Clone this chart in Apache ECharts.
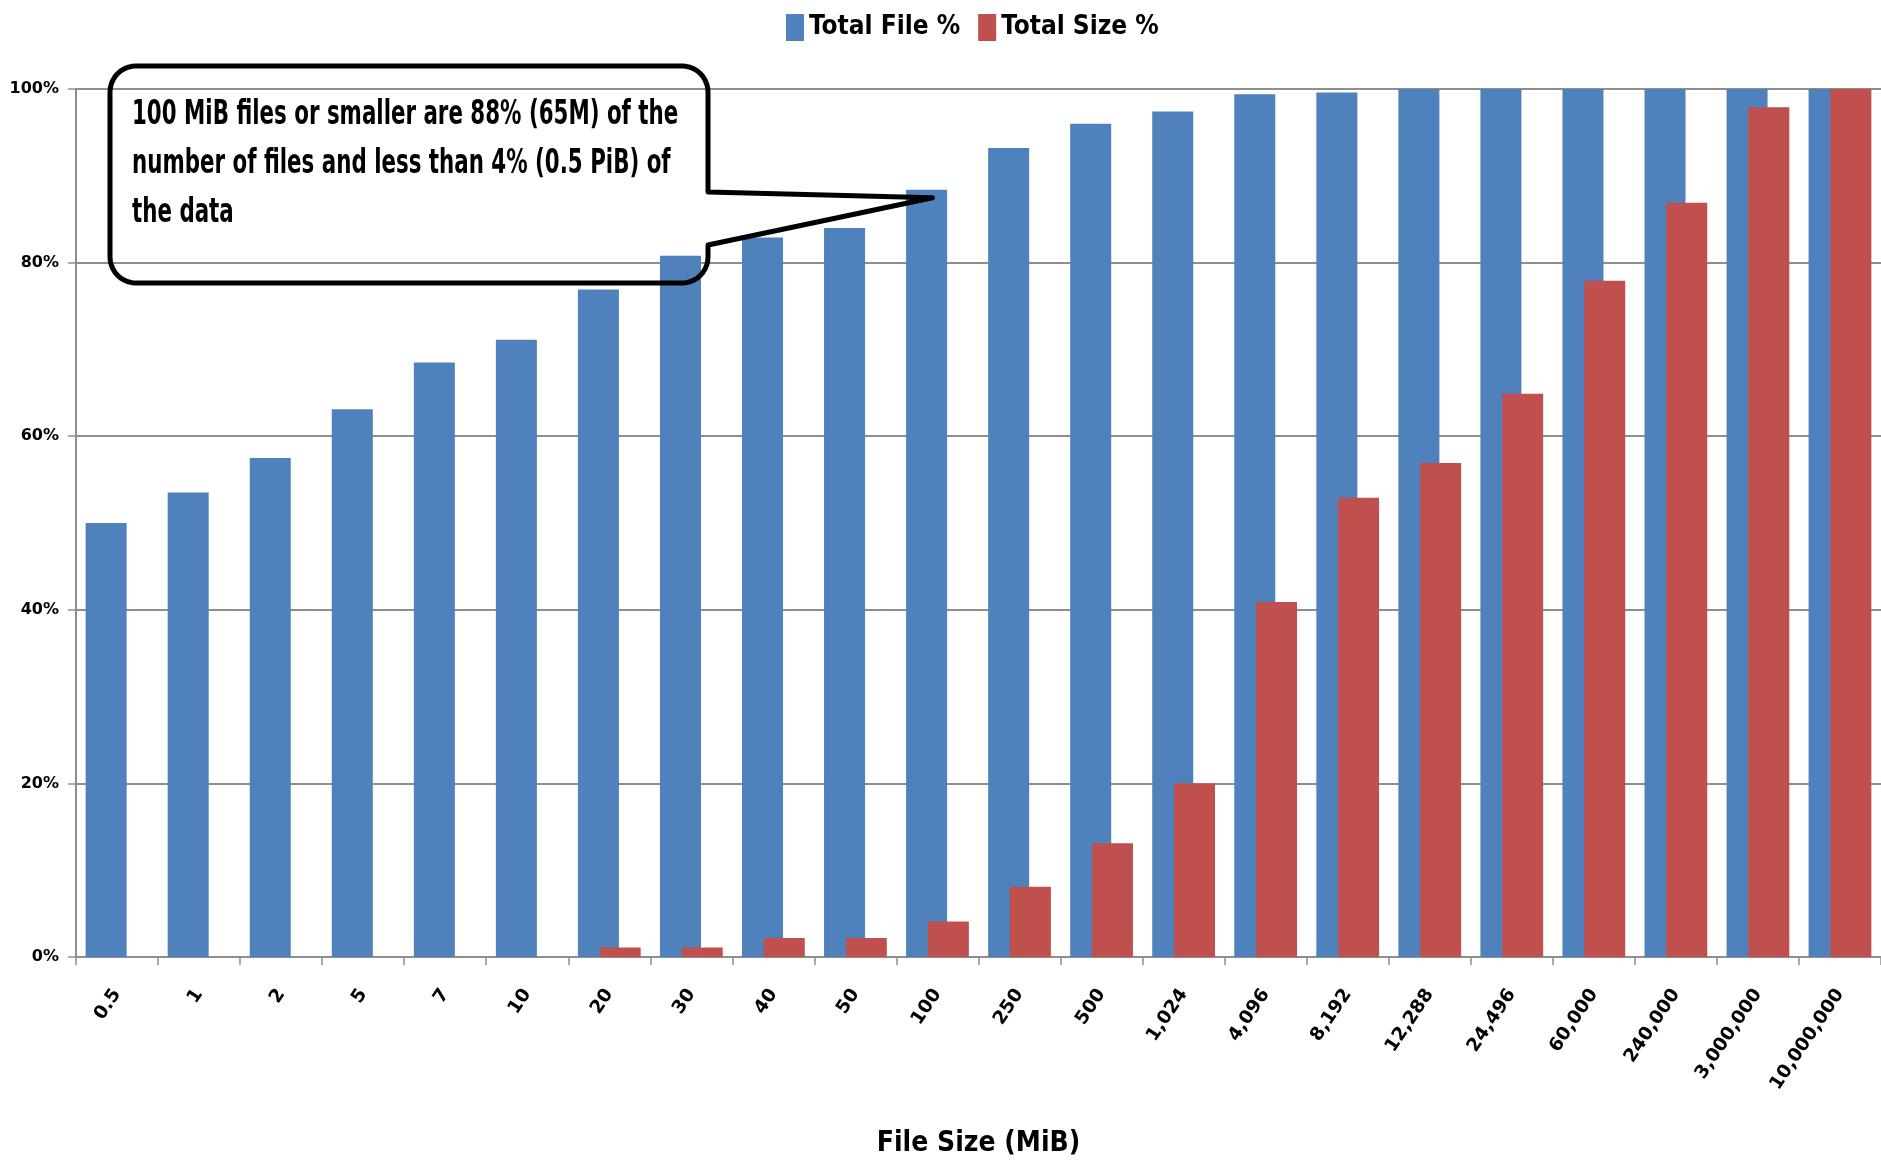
<!DOCTYPE html>
<html>
<head>
<meta charset="utf-8">
<title>File size distribution</title>
<script src="https://cdn.jsdelivr.net/npm/echarts@6/dist/echarts.min.js"></script>
<style>
  html, body { margin: 0; padding: 0; background: #fff; }
  #chart { width: 1881px; height: 1168px; }
</style>
</head>
<body>
<div id="chart"></div>
<script>
// File size buckets (MiB) and cumulative shares (%)
const sizeLabels = ['0.5', '1', '2', '5', '7', '10', '20', '30', '40', '50', '100', '250', '500',
  '1,024', '4,096', '8,192', '12,288', '24,496', '60,000', '240,000', '3,000,000', '10,000,000'];
const fileShare = [50, 53.5, 57.5, 63.1, 68.5, 71.1, 76.9, 80.8, 82.9, 84.0, 88.4, 93.2, 96.0,
  97.4, 99.4, 99.6, 100, 100, 100, 100, 100, 100];
const sizeShare = [0, 0, 0, 0, 0, 0, 1.1, 1.1, 2.2, 2.2, 4.1, 8.1, 13.1,
  20.0, 40.9, 52.9, 56.9, 64.9, 77.9, 86.9, 97.9, 100];
const yTicks = [0, 20, 40, 60, 80, 100];
const seriesNames = ['Total File %', 'Total Size %'];
const calloutLines = [
  '100 MiB files or smaller are 88% (65M) of the',
  'number of files and less than 4% (0.5 PiB) of',
  'the data'
];
const calloutBucket = '100';

const narrow = '"DejaVu Sans Condensed", "Liberation Sans Narrow", sans-serif';
const wide = '"DejaVu Sans", Verdana, sans-serif';
const gridGray = '#8e8e8e';

const chart = echarts.init(document.getElementById('chart'), null, { renderer: 'canvas' });

chart.setOption({
  animation: false,
  backgroundColor: '#ffffff',
  legend: {
    top: 9,
    left: 781,
    itemWidth: 18,
    itemHeight: 27,
    itemGap: 18,
    icon: 'rect',
    textStyle: { fontFamily: narrow, fontWeight: 'bold', fontSize: 26, color: '#000' },
    data: seriesNames
  },
  grid: { left: 76, right: 0, top: 89, bottom: 211, containLabel: false },
  xAxis: {
    type: 'category',
    data: sizeLabels,
    name: 'File Size (MiB)',
    nameLocation: 'middle',
    nameGap: 173,
    nameTextStyle: { fontFamily: narrow, fontWeight: 'bold', fontSize: 28, color: '#000' },
    axisLine: { lineStyle: { color: gridGray, width: 2 } },
    axisTick: { show: true, length: 8, lineStyle: { color: gridGray, width: 1.5 } },
    axisLabel: {
      interval: 0,
      rotate: 56,
      margin: 34,
      fontFamily: wide,
      fontWeight: 'bold',
      fontSize: 18.5,
      color: '#000'
    }
  },
  yAxis: {
    type: 'value',
    min: yTicks[0],
    max: yTicks[yTicks.length - 1],
    interval: yTicks[1] - yTicks[0],
    axisLine: { show: true, lineStyle: { color: gridGray, width: 2 } },
    axisTick: { show: true, length: 8, lineStyle: { color: gridGray, width: 1.5 } },
    splitLine: { lineStyle: { color: gridGray, width: 2 } },
    axisLabel: {
      margin: 17,
      formatter: '{value}%',
      fontFamily: wide,
      fontWeight: 'bold',
      fontSize: 16,
      color: '#000'
    }
  },
  series: [
    {
      name: seriesNames[0],
      type: 'bar',
      data: fileShare,
      barWidth: '50%',
      barGap: '-47%',
      itemStyle: { color: '#4F81BD' }
    },
    {
      name: seriesNames[1],
      type: 'bar',
      data: sizeShare,
      barWidth: '50%',
      barGap: '-47%',
      itemStyle: { color: '#C0504D' }
    }
  ]
});

// Points along a quarter arc (angles in degrees, screen coordinates)
function arcPoints(cx, cy, r, a0, a1, steps) {
  const pts = [];
  for (let i = 0; i <= steps; i++) {
    const a = (a0 + (a1 - a0) * i / steps) * Math.PI / 180;
    pts.push([cx + r * Math.cos(a), cy + r * Math.sin(a)]);
  }
  return pts;
}

// Speech-bubble annotation pointing at the 100 MiB bar
function drawCallout() {
  const idx = sizeLabels.indexOf(calloutBucket);
  const top = chart.convertToPixel({ xAxisIndex: 0, yAxisIndex: 0 }, [idx, fileShare[idx]]);
  const tip = [top[0] - 5, top[1] + 8];

  const L = 110, T = 66, R = 708, B = 283, r = 26;
  const p1 = 192, p2 = 245;
  const n = 10;
  const pts = [].concat(
    [[L + r, T]],
    arcPoints(R - r, T + r, r, -90, 0, n),
    [[R, p1], tip, [R, p2]],
    arcPoints(R - r, B - r, r, 0, 90, n),
    arcPoints(L + r, B - r, r, 90, 180, n),
    arcPoints(L + r, T + r, r, 180, 270, n)
  );

  chart.setOption({
    graphic: [
      {
        type: 'polygon',
        z: 100,
        shape: { points: pts },
        style: { fill: 'transparent', stroke: '#000', lineWidth: 5, lineJoin: 'round' }
      },
      {
        type: 'text',
        z: 101,
        x: 132,
        y: 91,
        scaleX: 0.72,
        scaleY: 1,
        style: {
          text: calloutLines.join('\n'),
          fontFamily: narrow,
          fontWeight: 'bold',
          fontSize: 33,
          lineHeight: 49,
          fill: '#000'
        }
      }
    ]
  });
}
drawCallout();
</script>
</body>
</html>
